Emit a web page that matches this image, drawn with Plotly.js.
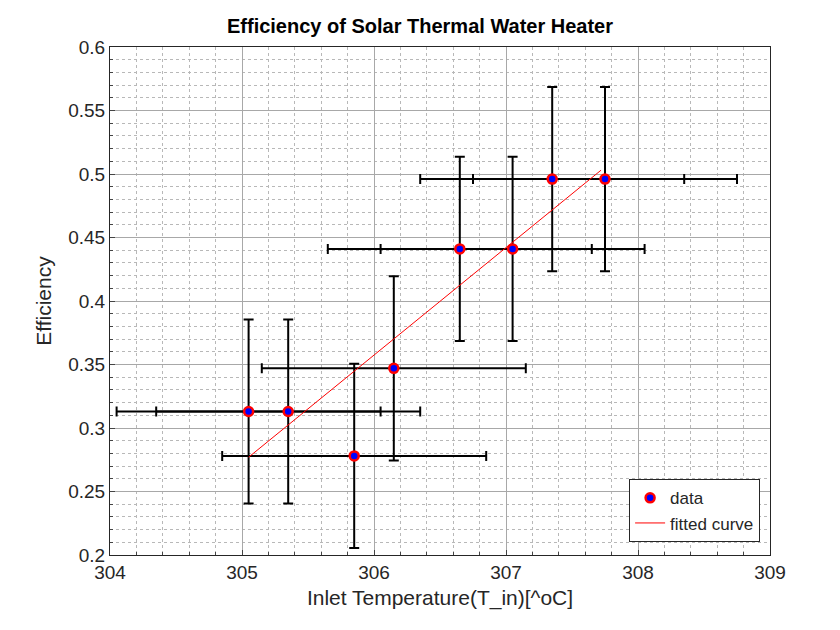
<!DOCTYPE html>
<html>
<head>
<meta charset="utf-8">
<script src="https://cdn.plot.ly/plotly-3.0.1.min.js"></script>
<style>body{margin:0;background:#fff}#plot{width:840px;height:630px}</style>
</head>
<body>
<div id="plot"></div>
<script>
// measured points
const tempIn = [305.05, 305.35, 305.85, 306.15, 306.65, 307.05, 307.35, 307.75];
const efficiency = [0.313, 0.313, 0.278, 0.347, 0.441, 0.441, 0.496, 0.496];
const tempErr = [1, 1, 1, 1, 1, 1, 1, 1];
const effErr = [0.0725, 0.0725, 0.0725, 0.0725, 0.0725, 0.0725, 0.0725, 0.0725];

// fitted line
const fitX = [305.05, 307.72];
const fitY = [0.277, 0.503];

const dataTrace = {
    x: tempIn,
    y: efficiency,
    type: 'scatter',
    mode: 'markers',
    name: 'data',
    marker: { color: 'blue', size: 9, line: { color: 'red', width: 2.5 } },
    error_x: { type: 'data', array: tempErr, visible: true, color: 'black', thickness: 2, width: 5 },
    error_y: { type: 'data', array: effErr, visible: true, color: 'black', thickness: 2, width: 5 }
};

const fitTrace = {
    x: fitX,
    y: fitY,
    type: 'scatter',
    mode: 'lines',
    name: 'fitted curve',
    line: { color: 'red', width: 1 }
};

const layout = {
    width: 840,
    height: 630,
    font: { family: 'Liberation Sans, Arial, sans-serif', color: '#262626' },
    title: {
        text: '<b>Efficiency of Solar Thermal Water Heater</b>',
        font: { size: 20, color: 'black' },
        x: 0.5, xanchor: 'center', y: 0.97
    },
    xaxis: {
        title: { text: 'Inlet Temperature(T_in)[^oC]', font: { size: 21 }, standoff: 8 },
        range: [304, 309], dtick: 1, tickfont: { size: 19 },
        showgrid: true, gridcolor: '#a8a8a8', zeroline: false, automargin: false,
        showline: true, mirror: true, linecolor: '#262626', ticks: 'inside', ticklen: 5,
        minor: { dtick: 0.2, showgrid: true, gridcolor: '#b8b8b8', griddash: 'dot', ticks: 'inside', ticklen: 3 }
    },
    yaxis: {
        title: { text: 'Efficiency', font: { size: 21 }, standoff: 10 },
        range: [0.2, 0.6], dtick: 0.05, tickfont: { size: 19 },
        showgrid: true, gridcolor: '#a8a8a8', zeroline: false, automargin: false,
        showline: true, mirror: true, linecolor: '#262626', ticks: 'inside', ticklen: 5,
        minor: { dtick: 0.01, showgrid: true, gridcolor: '#b8b8b8', griddash: 'dot', ticks: 'inside', ticklen: 3 }
    },
    legend: {
        x: 0.985, y: 0.025, xanchor: 'right', yanchor: 'bottom',
        bgcolor: 'white', bordercolor: '#262626', borderwidth: 1,
        font: { size: 17 }
    },
    margin: { l: 110, r: 70, t: 47, b: 75 },
    plot_bgcolor: 'white',
    paper_bgcolor: 'white'
};

Plotly.newPlot('plot', [dataTrace, fitTrace], layout, { displayModeBar: false });
</script>
</body>
</html>
